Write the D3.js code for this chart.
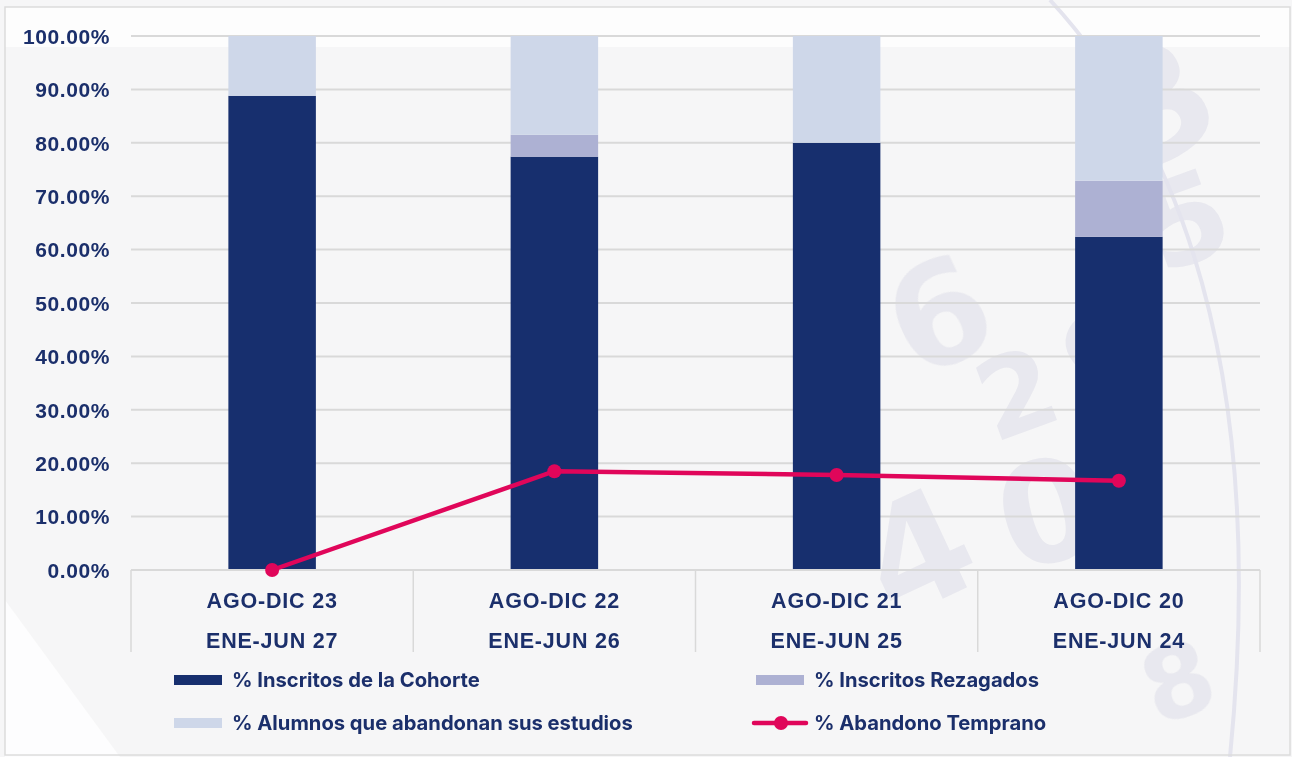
<!DOCTYPE html>
<html><head><meta charset="utf-8">
<script src="https://cdn.jsdelivr.net/npm/d3@7/dist/d3.min.js"></script>
<style>
html,body{margin:0;padding:0;background:#f6f6f7;}
svg{display:block;font-family:Inter,"Noto Sans",sans-serif;}
</style></head><body>
<svg id="c" width="1292" height="757"></svg>
<script>
const categories1 = ["AGO-DIC 23","AGO-DIC 22","AGO-DIC 21","AGO-DIC 20"];
const categories2 = ["ENE-JUN 27","ENE-JUN 26","ENE-JUN 25","ENE-JUN 24"];
const cohorte   = [88.8, 77.4, 80.0, 62.4];
const rezagados = [0.0, 4.1, 0.0, 10.5];
const abandonan = [11.2, 18.5, 20.0, 27.1];
const temprano  = [0.0, 18.5, 17.8, 16.7];
const yTicks = [0,10,20,30,40,50,60,70,80,90,100];
const seriesNames = ["% Inscritos de la Cohorte","% Inscritos Rezagados","% Alumnos que abandonan sus estudios","% Abandono Temprano"];
const colors = ["#172f6e","#adb1d3","#ced7e9","#e0065a"];
const textColor = "#1b2f6b";

const svg = d3.select("#c");
const W=1292,H=757;
// background
svg.append("rect").attr("width",W).attr("height",H).attr("fill","#f6f6f7");
svg.append("rect").attr("x",5).attr("y",7).attr("width",1285).attr("height",40).attr("fill","#fdfdfd");
svg.append("path").attr("d","M5,600 L5,757 L120,757 Z").attr("fill","#ffffff").attr("opacity",0.8);
// watermark
const wm = svg.append("g").attr("fill","#c9c9dc").attr("opacity",0.3).attr("font-weight",900).attr("font-family","DejaVu Sans");
const digits=[["3",1185,150,-30,150],["5",1200,260,-20,120],["6",960,360,-25,140],["9",1130,390,-30,120],["2",1030,430,-20,110],["4",940,600,-25,150],["0",1060,560,-15,140],["8",1190,715,-20,100]];
digits.forEach(d=>wm.append("text").text(d[0]).attr("transform",`translate(${d[1]},${d[2]}) rotate(${d[3]})`).attr("font-size",d[4]).attr("text-anchor","middle"));
svg.append("path").attr("d","M1050,0 Q1280,250 1230,757").attr("fill","none").attr("stroke","#e4e4ee").attr("stroke-width",4);
svg.append("rect").attr("x",5).attr("y",7).attr("width",1285).attr("height",748).attr("fill","none").attr("stroke","#dcdcdc").attr("stroke-width",1.5);

const x0=131,x1=1260,yTop=36,yBot=570;
const x = d3.scaleBand().domain(d3.range(4)).range([x0,x1]).paddingInner(0.69).paddingOuter(0.345);
const xc = d3.scaleBand().domain(d3.range(4)).range([x0,x1]);
const y = d3.scaleLinear().domain([0,100]).range([yBot,yTop]);

// gridlines
svg.append("g").selectAll("line").data(yTicks.filter(t=>t>0)).join("line")
 .attr("x1",x0).attr("x2",x1).attr("y1",d=>y(d)).attr("y2",d=>y(d))
 .attr("stroke","#d9d9d9").attr("stroke-width",2);

// y axis labels
const ya = d3.axisLeft(y).tickValues(yTicks).tickFormat(d=>d.toFixed(2)+"%").tickSize(0).tickPadding(0);
const yg = svg.append("g").attr("transform","translate(110,0)").call(ya);
yg.select(".domain").remove();
yg.selectAll("text").attr("fill",textColor).attr("font-size",21).attr("font-weight",700).attr("letter-spacing",0.6).attr("dy","0.35em");

// stacked bars
const rows = categories1.map((c,i)=>({i,cohorte:cohorte[i],rezagados:rezagados[i],abandonan:abandonan[i]}));
const stack = d3.stack().keys(["cohorte","rezagados","abandonan"])(rows);
svg.append("g").selectAll("g").data(stack).join("g").attr("fill",(d,k)=>colors[k])
 .selectAll("rect").data(d=>d).join("rect")
 .attr("x",d=>x(d.data.i)).attr("width",x.bandwidth())
 .attr("y",d=>y(d[1])).attr("height",d=>y(d[0])-y(d[1]));

// x axis box
const xg = svg.append("g");
xg.append("line").attr("x1",x0).attr("x2",x1).attr("y1",yBot).attr("y2",yBot).attr("stroke","#d9d9d9").attr("stroke-width",2);
xg.selectAll("line.v").data(d3.range(5)).join("line").attr("class","v")
 .attr("x1",d=>d<4?xc(d):x1).attr("x2",d=>d<4?xc(d):x1).attr("y1",yBot).attr("y2",652)
 .attr("stroke","#d9d9d9").attr("stroke-width",1.5);
[[categories1,600],[categories2,640]].forEach(([labs,yy])=>{
  const xa = d3.axisBottom(xc).tickFormat(i=>labs[i]).tickSize(0).tickPadding(0);
  const g = svg.append("g").attr("transform",`translate(0,${yy})`).call(xa);
  g.select(".domain").remove();
  g.selectAll("text").attr("fill",textColor).attr("font-size",21.5).attr("font-weight",700).attr("letter-spacing",0.8).attr("dy","0.35em");
});

// line
const cx = i=>xc(i)+xc.bandwidth()/2;
svg.append("path").datum(temprano).attr("fill","none").attr("stroke",colors[3]).attr("stroke-width",4.5)
 .attr("d",d3.line().x((d,i)=>cx(i)).y(d=>y(d)));
svg.append("g").selectAll("circle").data(temprano).join("circle")
 .attr("cx",(d,i)=>cx(i)).attr("cy",d=>y(d)).attr("r",7).attr("fill",colors[3]);

// legend
const leg = svg.append("g");
const items=[{k:0,x:174,y:680},{k:1,x:756,y:680},{k:2,x:174,y:723},{k:3,x:756,y:723}];
items.forEach(it=>{
  if(it.k<3){
    leg.append("rect").attr("x",it.x).attr("y",it.y-5).attr("width",48).attr("height",10).attr("fill",colors[it.k]);
  } else {
    leg.append("line").attr("x1",it.x-2).attr("x2",it.x+50).attr("y1",it.y).attr("y2",it.y).attr("stroke",colors[3]).attr("stroke-width",4.5).attr("stroke-linecap","round");
    leg.append("circle").attr("cx",it.x+25).attr("cy",it.y).attr("r",7).attr("fill",colors[3]);
  }
  leg.append("text").attr("x",it.x+58).attr("y",it.y).attr("dy","0.35em").text(seriesNames[it.k])
   .attr("fill",textColor).attr("font-size",20.2).attr("font-weight",700);
});
</script>
</body></html>
